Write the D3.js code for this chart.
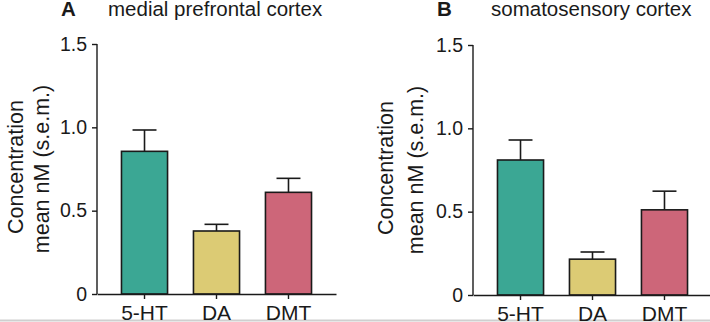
<!DOCTYPE html>
<html>
<head>
<meta charset="utf-8">
<script src="https://cdn.jsdelivr.net/npm/d3@7"></script>
<style>
  body { margin: 0; background: #fff; }
  text { font-family: "Liberation Sans", Arial, sans-serif; fill: #1a1a1a; }
  .axis path, .axis line { stroke: #1a1a1a; stroke-width: 1.4px; }
</style>
</head>
<body>
<svg id="mainSvg" width="710" height="322"></svg>
<script>
// data
var compounds = ["5-HT", "DA", "DMT"];
var barColors = ["#3ba794", "#dccb74", "#cd6679"];
var yTicks = [0, 0.5, 1.0, 1.5];

var mpfcMean = [0.856, 0.378, 0.61];
var mpfcSem  = [0.128, 0.040, 0.084];

var ssMean = [0.81, 0.215, 0.511];
var ssSem  = [0.12, 0.043, 0.112];

var panelLetters = ["A", "B"];
var panelTitles = ["medial prefrontal cortex", "somatosensory cortex"];

var svg = d3.select("#mainSvg");

// light border line at the bottom of the figure
svg.append("line")
	.attr("x1", 0).attr("x2", 710)
	.attr("y1", 320.5).attr("y2", 320.5)
	.attr("stroke", "#cfcfcf")
	.attr("stroke-width", 2);

function drawPanel(opts, means, sems, letter, title){

	var x = d3.scaleBand()
		.domain(compounds)
		.range([opts.left, opts.right])
		.paddingInner(0.36)
		.paddingOuter(0.34);

	var y = d3.scaleLinear()
		.domain([0, 1.5])
		.range([opts.bottom, opts.top]);

	var g = svg.append("g").attr("class", "panel");

	// bars
	g.selectAll(".bar")
		.data(means)
		.enter()
		.append("rect")
		.attr("class", "bar")
		.attr("x", function(d, i){ return x(compounds[i]); })
		.attr("y", function(d){ return y(d); })
		.attr("width", x.bandwidth())
		.attr("height", function(d){ return y(0) - y(d); })
		.attr("fill", function(d, i){ return barColors[i]; })
		.attr("stroke", "#1a1a1a")
		.attr("stroke-width", 1.6);

	// error bars (upper only)
	var capHalf = x.bandwidth() * 0.26;
	means.forEach(function(m, i){
		var cx = x(compounds[i]) + x.bandwidth()/2;
		g.append("line")
			.attr("x1", cx).attr("x2", cx)
			.attr("y1", y(m)).attr("y2", y(m + sems[i]))
			.attr("stroke", "#1a1a1a").attr("stroke-width", 1.6);
		g.append("line")
			.attr("x1", cx - capHalf).attr("x2", cx + capHalf)
			.attr("y1", y(m + sems[i])).attr("y2", y(m + sems[i]))
			.attr("stroke", "#1a1a1a").attr("stroke-width", 1.6);
	});

	// y axis
	g.append("g")
		.attr("class", "axis")
		.attr("transform", "translate(" + opts.left + ",0)")
		.call(d3.axisLeft(y).tickValues(yTicks).tickSize(5).tickPadding(5)
			.tickFormat(function(d){ return d === 0 ? "0" : d3.format(".1f")(d); }))
		.call(function(a){
			a.select(".domain").attr("d", "M0," + y(1.5) + "V" + y(0));
			a.selectAll("text").attr("font-size", "19.5px").attr("font-family", null).attr("fill", "#1a1a1a");
		});

	// x axis
	g.append("g")
		.attr("class", "axis")
		.attr("transform", "translate(0," + opts.bottom + ")")
		.call(d3.axisBottom(x).tickSize(5).tickPadding(6).tickSizeOuter(0))
		.call(function(a){
			a.selectAll("text").attr("font-size", "21px").attr("font-family", null).attr("fill", "#1a1a1a");
		});

	// y axis title, two lines
	var midY = (opts.top + opts.bottom)/2;
	g.append("text")
		.attr("transform", "translate(" + opts.lab1 + "," + (midY - 2) + ") rotate(-90)")
		.attr("text-anchor", "middle")
		.attr("font-size", "21.5px")
		.text("Concentration");
	g.append("text")
		.attr("transform", "translate(" + opts.lab2 + "," + midY + ") rotate(-90)")
		.attr("text-anchor", "middle")
		.attr("font-size", "21.5px")
		.text("mean nM (s.e.m.)");

	// panel letter and title
	g.append("text")
		.attr("x", opts.letterX).attr("y", 16)
		.attr("font-size", "20.5px")
		.attr("font-weight", "bold")
		.text(letter);
	g.append("text")
		.attr("x", opts.titleX).attr("y", 16)
		.attr("font-size", "20.5px")
		.text(title);
}

drawPanel({left: 97, right: 336, top: 44, bottom: 294, lab1: 23, lab2: 49, letterX: 61, titleX: 108},
	mpfcMean, mpfcSem, panelLetters[0], panelTitles[0]);

drawPanel({left: 473, right: 712, top: 45, bottom: 295, lab1: 393, lab2: 423, letterX: 437, titleX: 491},
	ssMean, ssSem, panelLetters[1], panelTitles[1]);
</script>
</body>
</html>
